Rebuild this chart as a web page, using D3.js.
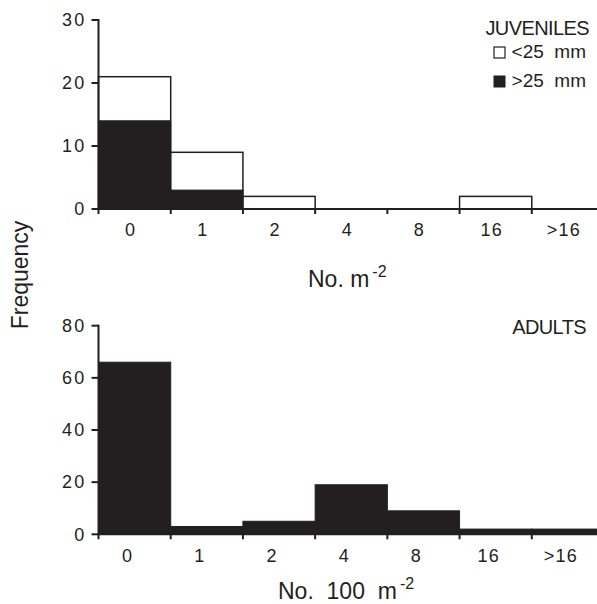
<!DOCTYPE html>
<html>
<head>
<meta charset="utf-8">
<script src="https://cdn.jsdelivr.net/npm/d3@7"></script>
<style>
  html, body { margin: 0; padding: 0; background: #fff; }
  svg { display: block; font-family: "Liberation Sans", Arial, Helvetica, sans-serif; }
</style>
</head>
<body>
<svg id="chart" width="597" height="604"></svg>
<script>
// ---- data ----
const categories = ["0", "1", "2", "4", "8", "16", ">16"];
const juvSmall = [7, 6, 2, 0, 0, 2, 0];     // <25 mm (open, stacked on top)
const juvLarge = [14, 3, 0, 0, 0, 0, 0];    // >25 mm (solid)
const adults   = [66, 3, 5, 19, 9, 2, 2];
const juvYTicks = [0, 10, 20, 30];
const adultYTicks = [0, 20, 40, 60, 80];

const svg = d3.select("#chart");
const INK = "#231f20";

const x = d3.scaleBand().domain(categories).range([98.5, 604]).padding(0);

function drawAxes(y, ticks, labelShift) {
  const g = svg.append("g");
  const y0 = y(0);
  g.append("line").attr("x1", x.range()[0]).attr("x2", 597)
    .attr("y1", y0).attr("y2", y0).attr("stroke", INK).attr("stroke-width", 2);
  g.append("line").attr("x1", x.range()[0]).attr("x2", x.range()[0])
    .attr("y1", y(d3.max(ticks)) - 1).attr("y2", y0 + 1).attr("stroke", INK).attr("stroke-width", 2);
  ticks.forEach(t => {
    g.append("line").attr("x1", x.range()[0] - 7).attr("x2", x.range()[0])
      .attr("y1", y(t)).attr("y2", y(t)).attr("stroke", INK).attr("stroke-width", 2);
    g.append("text").attr("x", x.range()[0] - 12).attr("y", y(t))
      .attr("dy", "0.35em").attr("text-anchor", "end")
      .attr("font-size", 18).attr("letter-spacing", 2.2).attr("fill", INK).text(t);
  });
  categories.forEach(c => {
    const xx = x(c);
    g.append("line").attr("x1", xx).attr("x2", xx)
      .attr("y1", y0).attr("y2", y0 + 5).attr("stroke", INK).attr("stroke-width", 2);
    g.append("text").attr("x", xx + x.bandwidth() / 2 + labelShift).attr("y", y0 + 21)
      .attr("dy", "0.35em").attr("text-anchor", "middle")
      .attr("font-size", 18).attr("letter-spacing", 1.2).attr("fill", INK).text(c);
  });
}

// ---- top panel: juveniles ----
const yTop = d3.scaleLinear().domain([0, 30]).range([209, 20]);
const juvRows = categories.map((c, i) => ({ cat: c, large: juvLarge[i], small: juvSmall[i] }));
const stack = d3.stack().keys(["large", "small"])(juvRows);

const topG = svg.append("g");
stack[1].forEach(d => {
  if (d[1] <= 0 || d[1] === d[0]) return;
  topG.append("rect")
    .attr("x", x(d.data.cat)).attr("width", x.bandwidth())
    .attr("y", yTop(d[1])).attr("height", yTop(0) - yTop(d[1]))
    .attr("fill", "#fff").attr("stroke", INK).attr("stroke-width", 1.5);
});
stack[0].forEach(d => {
  if (d[1] <= 0) return;
  topG.append("rect")
    .attr("x", x(d.data.cat)).attr("width", x.bandwidth())
    .attr("y", yTop(d[1])).attr("height", yTop(d[0]) - yTop(d[1]))
    .attr("fill", INK).attr("stroke", INK).attr("stroke-width", 1);
});
drawAxes(yTop, juvYTicks, -4);

// legend
svg.append("text").attr("x", 589).attr("y", 35).attr("text-anchor", "end")
  .attr("font-size", 20).attr("letter-spacing", -0.6).attr("fill", INK).text("JUVENILES");
svg.append("rect").attr("x", 494).attr("y", 47).attr("width", 11).attr("height", 11)
  .attr("fill", "#fff").attr("stroke", INK).attr("stroke-width", 1.2);
svg.append("text").attr("x", 586).attr("y", 58).attr("text-anchor", "end")
  .attr("font-size", 19).attr("fill", INK).attr("xml:space", "preserve").text("<25  mm");
svg.append("rect").attr("x", 494).attr("y", 76).attr("width", 11).attr("height", 11)
  .attr("fill", INK).attr("stroke", INK).attr("stroke-width", 1);
svg.append("text").attr("x", 586).attr("y", 87).attr("text-anchor", "end")
  .attr("font-size", 19).attr("fill", INK).attr("xml:space", "preserve").text(">25  mm");

const t1 = svg.append("text").attr("x", 308).attr("y", 287)
  .attr("font-size", 23).attr("fill", INK).attr("xml:space", "preserve");
t1.append("tspan").text("No. m");
t1.append("tspan").attr("font-size", 16).attr("dy", -10).attr("dx", 3).text("-2");

// ---- bottom panel: adults ----
const yBot = d3.scaleLinear().domain([0, 80]).range([534.3, 325.7]);
svg.append("g").selectAll("rect").data(categories.map((c, i) => ({ cat: c, v: adults[i] })))
  .join("rect")
  .attr("x", d => x(d.cat)).attr("width", x.bandwidth())
  .attr("y", d => yBot(d.v)).attr("height", d => yBot(0) - yBot(d.v))
  .attr("fill", INK).attr("stroke", INK).attr("stroke-width", 1);
drawAxes(yBot, adultYTicks, -7);

svg.append("text").attr("x", 586).attr("y", 334).attr("text-anchor", "end")
  .attr("font-size", 20).attr("letter-spacing", -0.6).attr("fill", INK).text("ADULTS");

const t2 = svg.append("text").attr("x", 278).attr("y", 599)
  .attr("font-size", 23).attr("fill", INK).attr("xml:space", "preserve");
t2.append("tspan").text("No.  100  m");
t2.append("tspan").attr("font-size", 16).attr("dy", -10).attr("dx", 3).text("-2");

svg.append("text").attr("transform", "translate(28,275) rotate(-90)")
  .attr("text-anchor", "middle").attr("font-size", 23).attr("fill", INK).text("Frequency");
</script>
</body>
</html>
